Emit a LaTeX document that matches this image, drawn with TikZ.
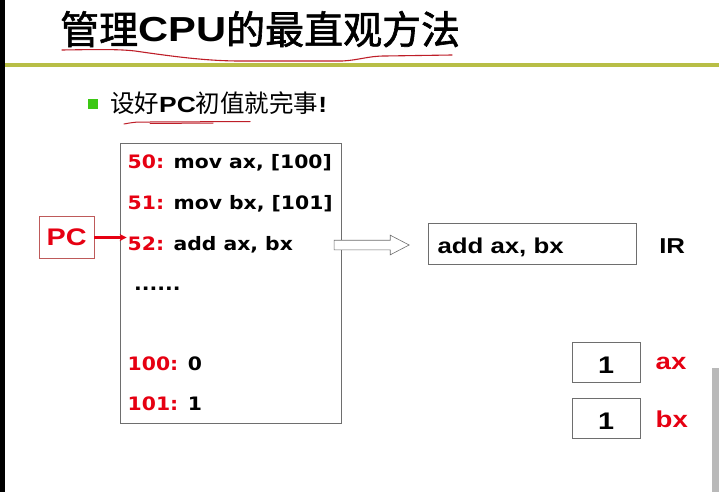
\documentclass[tikz,border=0pt]{standalone}
\usepackage{fontspec}
\setmainfont{Liberation Sans}
\newfontfamily\slidefont[FakeStretch=1.2]{Liberation Sans}
\newfontfamily\memfont[FakeStretch=1.1]{DejaVu Sans}
\newfontfamily\cjkfont{Noto Sans CJK SC}
\newfontfamily\cjktitle[FakeBold=1.6]{Noto Sans CJK SC}
\usepackage{xcolor}
\usetikzlibrary{positioning, arrows.meta, shapes.arrows}

\definecolor{slidered}{RGB}{230,0,18}
\definecolor{inkred}{RGB}{190,30,40}
\definecolor{olivebar}{RGB}{184,190,70}
\definecolor{bulletgreen}{RGB}{60,200,20}
\definecolor{pcframe}{RGB}{190,90,90}
\definecolor{framegray}{RGB}{110,110,110}

\newcommand{\memaddr}[1]{\textcolor{slidered}{#1:}}

\begin{document}
\begin{tikzpicture}[x=1pt, y=1pt,
  >={Stealth[length=7pt, width=7pt]},
  every node/.style={inner sep=0pt, anchor=base west},
  memline/.style={font=\memfont\bfseries\fontsize{18.5}{20}\selectfont},
  regbox/.style={draw=framegray, line width=0.8pt, anchor=center, minimum width=#1,
    minimum height=40.5pt, font=\slidefont\bfseries\fontsize{24}{26}\selectfont,
    text height=21.6pt, text depth=0pt},
  reglabel/.style={font=\slidefont\bfseries\fontsize{23}{26}\selectfont, text=slidered},
  pcbox/.style={draw=pcframe, line width=0.8pt, anchor=center, minimum width=54.7pt,
    minimum height=41.6pt, text=slidered, font=\slidefont\bfseries\fontsize{24}{26}\selectfont},
  fetcharrow/.style={single arrow, draw=framegray, fill=white, line width=0.6pt, anchor=center,
    inner xsep=0pt, inner ysep=4.5pt, minimum height=75pt, single arrow head extend=5pt,
    single arrow tip angle=55},
]
% Slide background
\fill[white] (0,0) rectangle (719,-492);
\useasboundingbox (0,0) rectangle (719,-492);
\fill[black] (0,0) rectangle (5,-492);
\fill[olivebar] (5,-63.5) rectangle (719,-67);
\fill[gray!55] (712,-368) rectangle (719,-492);

% Title and bullet
\node (title) at (60,-44) {{\cjktitle\fontsize{39}{42}\selectfont 管理}{\slidefont\bfseries\fontsize{34.7}{40}\selectfont\raisebox{2pt}{CPU}}{\cjktitle\fontsize{39}{42}\selectfont 的最直观方法}};
\fill[bulletgreen] (88,-99) rectangle (98,-109);
\node (point) at (110,-113) {{\cjkfont\fontsize{24.5}{28}\selectfont 设好}{\slidefont\bfseries\fontsize{22}{28}\selectfont PC}{\cjkfont\fontsize{24.5}{28}\selectfont 初值就完事}{\slidefont\bfseries\fontsize{22}{28}\selectfont !}};

% Hand-drawn underlines
\draw[inkred, line width=1.1pt, line cap=round] (62,-50) .. controls (95,-49.5) and (118,-49) .. (135,-51)
  .. controls (170,-56) and (205,-61) .. (240,-61) -- (342,-61) .. controls (360,-60) and (368,-56) .. (385,-56) -- (452,-55);
\draw[inkred, line width=1pt, line cap=round] (124,-124) .. controls (135,-122) .. (150,-122) -- (250,-121.5);
\draw[inkred, line width=1pt, line cap=round] (150,-123.5) -- (213,-123);

% Memory
\node[draw=framegray, line width=0.8pt, anchor=north west, minimum width=221pt, minimum height=280pt] (mem) at (120,-143) {};
\node[memline] (m50) at (127.5,-168.3) {\memaddr{50} mov ax, [100]};
\node[memline] (m51) at (127.5,-209) {\memaddr{51} mov bx, [101]};
\node[memline] (m52) at (127.5,-250) {\memaddr{52} add ax, bx};
\node[memline] (mdots) at (134,-290) {......};
\node[memline] (m100) at (127.5,-370.7) {\memaddr{100} 0};
\node[memline] (m101) at (127.5,-410.7) {\memaddr{101} 1};

% PC
\node[pcbox] (pc) at (66.7,-237.5) {PC};
\draw[->, slidered, line width=2.2pt] (pc.east) -- ([xshift=-0.8pt]pc.east -| m52.west);

% Fetch into IR
\node[fetcharrow] (fetch) at (367,-245) {};
\node[regbox=208.4pt, text width=190pt, inner xsep=9pt, align=left, font=\slidefont\bfseries\fontsize{21.5}{24}\selectfont,
  text height=19pt] (ir) at (532.5,-243.8) {add ax, bx};
\node[font=\slidefont\bfseries\fontsize{21.5}{24}\selectfont, right=22pt of ir, yshift=-2.5pt] (irlabel) {IR};

% Registers
\node[regbox=67.7pt] (axreg) at (606.2,-362.5) {1};
\node[regbox=67.7pt, below=14.6pt of axreg] (bxreg) {1};
\node[reglabel, right=15pt of axreg, yshift=-1pt] (axlabel) {ax};
\node[reglabel, right=15pt of bxreg, yshift=-1pt] (bxlabel) {bx};
\end{tikzpicture}
\end{document}
